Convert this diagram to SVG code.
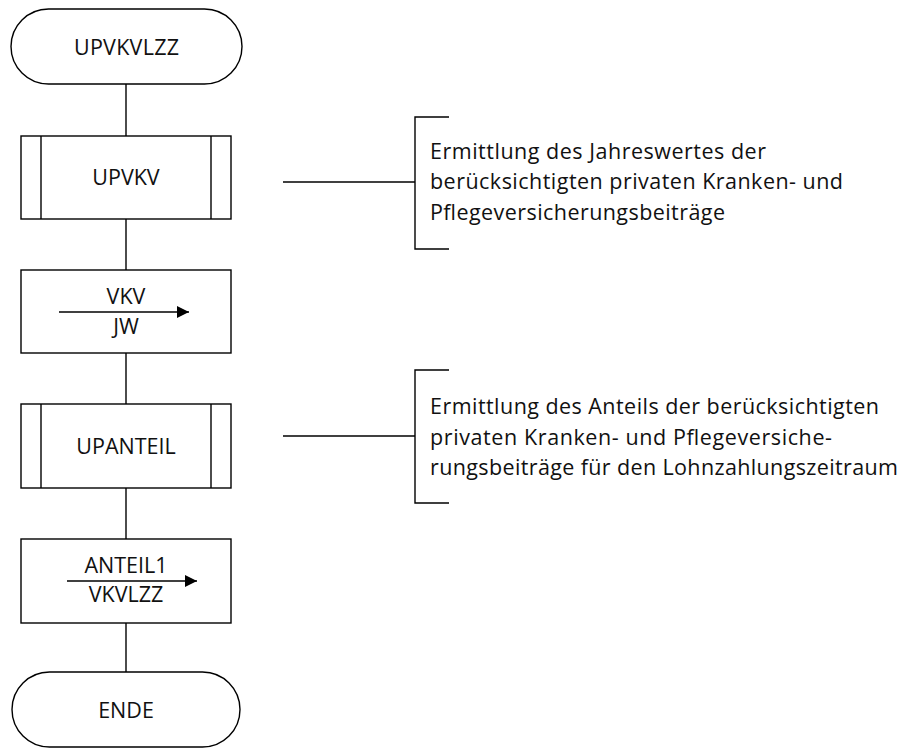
<svg xmlns="http://www.w3.org/2000/svg" width="910" height="749" viewBox="0 0 910 749">
<style>
.s{fill:#fff;stroke:#000;stroke-width:1.4}
.l{fill:none;stroke:#000;stroke-width:1.4}
.t{font-family:"Open Sans","Liberation Sans",sans-serif;font-size:21.5px;fill:#111}
.c{text-anchor:middle}
</style>
<defs>
<marker id="ah" viewBox="0 0 12 12" refX="12" refY="6" markerWidth="12" markerHeight="12" markerUnits="userSpaceOnUse" orient="auto">
<path d="M0,0 L12,6 L0,12 z" fill="#000"/>
</marker>
</defs>
<g id="connectors">
<line class="l" x1="126" y1="84" x2="126" y2="136"/>
<line class="l" x1="126" y1="219" x2="126" y2="270"/>
<line class="l" x1="126" y1="353" x2="126" y2="404"/>
<line class="l" x1="126" y1="488" x2="126" y2="539"/>
<line class="l" x1="126" y1="623" x2="126" y2="673"/>
<line class="l" x1="283" y1="182" x2="415" y2="182"/>
<line class="l" x1="283" y1="436" x2="415" y2="436"/>
</g>
<g id="start">
<rect class="s" x="11" y="9" width="231" height="75" rx="37.5"/>
<text class="t c" x="126.5" y="55" textLength="105">UPVKVLZZ</text>
</g>
<g id="upvkv">
<rect class="s" x="21" y="136" width="210" height="83"/>
<line class="l" x1="41" y1="136" x2="41" y2="219"/>
<line class="l" x1="211" y1="136" x2="211" y2="219"/>
<text class="t c" x="126" y="185">UPVKV</text>
</g>
<g id="vkv">
<rect class="s" x="21" y="270" width="210" height="83"/>
<line class="l" x1="59" y1="312" x2="189" y2="312" marker-end="url(#ah)"/>
<text class="t c" x="126" y="304">VKV</text>
<text class="t c" x="126" y="334">JW</text>
</g>
<g id="upanteil">
<rect class="s" x="21" y="404" width="210" height="84"/>
<line class="l" x1="41" y1="404" x2="41" y2="488"/>
<line class="l" x1="211" y1="404" x2="211" y2="488"/>
<text class="t c" x="126" y="454">UPANTEIL</text>
</g>
<g id="anteil1">
<rect class="s" x="21" y="539" width="210" height="84"/>
<line class="l" x1="67" y1="581" x2="197" y2="581" marker-end="url(#ah)"/>
<text class="t c" x="126" y="573">ANTEIL1</text>
<text class="t c" x="126" y="602">VKVLZZ</text>
</g>
<g id="ende">
<rect class="s" x="12" y="672" width="228" height="75" rx="37.5"/>
<text class="t c" x="126" y="718">ENDE</text>
</g>
<g id="note1">
<path class="l" d="M449,117 H415 V249 H449"/>
<text class="t" x="430" y="159" textLength="336">Ermittlung des Jahreswertes der</text>
<text class="t" x="430" y="189" textLength="413">berücksichtigten privaten Kranken- und</text>
<text class="t" x="430" y="220" textLength="295">Pflegeversicherungsbeiträge</text>
</g>
<g id="note2">
<path class="l" d="M449,370 H415 V503 H449"/>
<text class="t" x="430" y="414" textLength="449">Ermittlung des Anteils der berücksichtigten</text>
<text class="t" x="430" y="445" textLength="402">privaten Kranken- und Pflegeversiche-</text>
<text class="t" x="430" y="475" textLength="468">rungsbeiträge für den Lohnzahlungszeitraum</text>
</g>
</svg>
